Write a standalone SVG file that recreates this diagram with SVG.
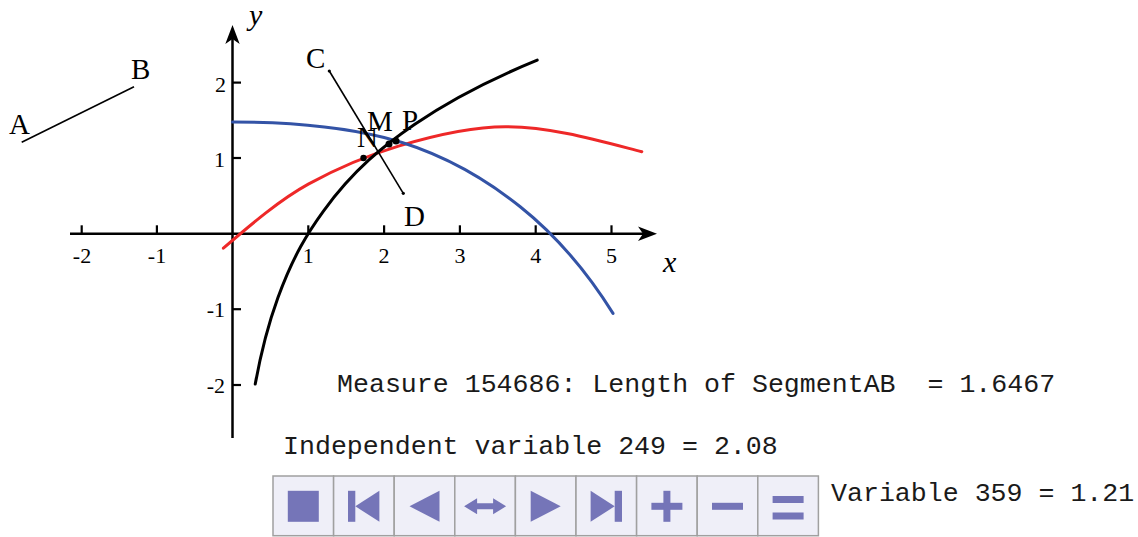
<svg xmlns="http://www.w3.org/2000/svg" width="1138" height="537" viewBox="0 0 1138 537">
<style>
.ax{stroke:#000;stroke-width:2.5;fill:none}
.tk{stroke:#000;stroke-width:2.2}
.tly{font-family:"Liberation Serif","Times New Roman",serif;font-size:22px;fill:#000;text-anchor:end}
.tlx{font-family:"Liberation Serif","Times New Roman",serif;font-size:22px;fill:#000;text-anchor:middle}
.axl{font-family:"Liberation Serif","Times New Roman",serif;font-size:30px;font-style:italic;fill:#000}
.pl{font-family:"Liberation Serif","Times New Roman",serif;font-size:29px;fill:#000}
.cv{fill:none;stroke-width:3;stroke-linecap:round}
.seg{stroke:#000;stroke-width:1.6;fill:none}
.mono{font-family:"Liberation Mono","Courier New",monospace;font-size:26.6px;fill:#1a1a1a}
.btn{fill:#efeff8;stroke:#a0a0a0;stroke-width:1.5}
.ic{fill:#7575b8}
</style>

<g id="axes">
  <line class="ax" x1="70" y1="233.8" x2="645" y2="233.8"/>
  <polygon points="657,233.8 638,226.6 643,233.8 638,241" fill="#000"/>
  <line class="ax" x1="232.5" y1="438" x2="232.5" y2="38"/>
  <polygon points="232.5,25 225.3,44 232.5,39 239.7,44" fill="#000"/>
  <g id="xticks">
    <line class="tk" x1="81.7" y1="233.8" x2="81.7" y2="225.3"/>
    <line class="tk" x1="156.9" y1="233.8" x2="156.9" y2="225.3"/>
    <line class="tk" x1="308.3" y1="233.8" x2="308.3" y2="225.3"/>
    <line class="tk" x1="384.1" y1="233.8" x2="384.1" y2="225.3"/>
    <line class="tk" x1="459.9" y1="233.8" x2="459.9" y2="225.3"/>
    <line class="tk" x1="535.7" y1="233.8" x2="535.7" y2="225.3"/>
    <line class="tk" x1="611.5" y1="233.8" x2="611.5" y2="225.3"/>
  </g>
  <g id="yticks">
    <line class="tk" x1="232.5" y1="82.6" x2="241" y2="82.6"/>
    <line class="tk" x1="232.5" y1="158" x2="241" y2="158"/>
    <line class="tk" x1="232.5" y1="309.2" x2="241" y2="309.2"/>
    <line class="tk" x1="232.5" y1="385" x2="241" y2="385"/>
  </g>
  <g id="ticklabels">
    <text class="tlx" x="82" y="263">-2</text>
    <text class="tlx" x="157" y="263">-1</text>
    <text class="tlx" x="308.3" y="263">1</text>
    <text class="tlx" x="384.1" y="263">2</text>
    <text class="tlx" x="459.9" y="263">3</text>
    <text class="tlx" x="535.7" y="263">4</text>
    <text class="tlx" x="611.5" y="263">5</text>
    <text class="tly" x="226" y="92">2</text>
    <text class="tly" x="225" y="166.5">1</text>
    <text class="tly" x="225" y="317">-1</text>
    <text class="tly" x="225" y="393">-2</text>
  </g>
  <text class="axl" x="663" y="272">x</text>
  <text class="axl" x="249" y="25">y</text>
</g>

<g id="curves">
  <path id="red-curve" class="cv" stroke="#ee2828" d="M223.4,248.2 C251.7,223.86 280,199.72 308.3,184.15 C338.62,167.47 368.94,154.97 399.26,145.87 C434.63,135.26 470.01,126.69 505.38,126.69 C550.86,126.69 596.34,139.89 641.82,151.71"/>
  <path id="blue-curve" class="cv" stroke="#3353a6" d="M232.5,122 C283.03,122 333.57,124.9 384.1,137.53 C429.58,148.9 475.06,170.59 520.54,206.97 C551.37,231.63 582.19,264.06 613.02,313.39"/>
  <path id="black-curve" class="cv" stroke="#000" d="M255.24,384.08 C262.82,342.47 270.4,318.36 277.98,297.56 C293.14,255.95 308.3,231.84 323.46,211.04 C353.78,169.43 384.1,145.32 414.42,124.52 C455.35,96.44 496.29,76.91 537.22,60.14"/>
</g>

<g id="segments">
  <g id="segAB">
    <line class="seg" x1="21.7" y1="142.3" x2="134" y2="86.7"/>
    <text class="pl" x="9" y="134">A</text>
    <text class="pl" x="131" y="79">B</text>
  </g>
  <g id="segCD">
    <line class="seg" x1="329.3" y1="71" x2="403.3" y2="193.3"/>
    <circle cx="329.3" cy="71" r="1.6" fill="#000"/>
    <circle cx="403.3" cy="193.3" r="1.6" fill="#000"/>
    <text class="pl" x="306" y="68">C</text>
    <text class="pl" x="404" y="226">D</text>
  </g>
</g>

<g id="points">
  <g id="pN">
    <circle cx="363.5" cy="158" r="3.2" fill="#000"/>
    <text class="pl" x="357" y="147">N</text>
  </g>
  <g id="pM">
    <circle cx="389" cy="144" r="3.5" fill="#000"/>
    <text class="pl" x="367" y="131">M</text>
  </g>
  <g id="pP">
    <circle cx="396" cy="141" r="3.5" fill="#000"/>
    <text class="pl" x="402" y="130">P</text>
  </g>
</g>

<g id="measures">
  <text class="mono" x="337" y="392" xml:space="preserve">Measure 154686: Length of SegmentAB  = 1.6467</text>
  <text class="mono" x="283" y="454" xml:space="preserve">Independent variable 249 = 2.08</text>
  <text class="mono" x="831" y="501" xml:space="preserve">Variable 359 = 1.21</text>
</g>

<g id="controls">
  <g id="btn-stop"><rect class="btn" x="273" y="476" width="60.6" height="59.7"/><rect class="ic" x="287.8" y="490.8" width="31" height="31"/></g>
  <g id="btn-first"><rect class="btn" x="333.6" y="476" width="60.6" height="59.7"/><rect class="ic" x="348" y="490.8" width="7.3" height="31"/><polygon class="ic" points="355.3,506.3 379.4,490.8 379.4,521.8"/></g>
  <g id="btn-back"><rect class="btn" x="394.2" y="476" width="60.6" height="59.7"/><polygon class="ic" points="409.5,506.3 439.5,490.8 439.5,521.8"/></g>
  <g id="btn-both"><rect class="btn" x="454.8" y="476" width="60.6" height="59.7"/><polygon class="ic" points="464.1,506.3 477.1,498.3 477.1,503.3 493.1,503.3 493.1,498.3 506.1,506.3 493.1,514.3 493.1,509.3 477.1,509.3 477.1,514.3"/></g>
  <g id="btn-play"><rect class="btn" x="515.4" y="476" width="60.6" height="59.7"/><polygon class="ic" points="530.7,490.8 560.7,506.3 530.7,521.8"/></g>
  <g id="btn-last"><rect class="btn" x="576" y="476" width="60.6" height="59.7"/><polygon class="ic" points="590.6,490.8 614.7,506.3 590.6,521.8"/><rect class="ic" x="614.7" y="490.8" width="7.3" height="31"/></g>
  <g id="btn-plus"><rect class="btn" x="636.6" y="476" width="60.6" height="59.7"/><rect class="ic" x="651.4" y="502.8" width="31" height="7"/><rect class="ic" x="663.4" y="490.8" width="7" height="31"/></g>
  <g id="btn-minus"><rect class="btn" x="697.2" y="476" width="60.6" height="59.7"/><rect class="ic" x="712" y="502.8" width="31" height="7"/></g>
  <g id="btn-equal"><rect class="btn" x="757.8" y="476" width="60.6" height="59.7"/><rect class="ic" x="772.6" y="496" width="31" height="7"/><rect class="ic" x="772.6" y="512.5" width="31" height="7"/></g>
</g>
</svg>
